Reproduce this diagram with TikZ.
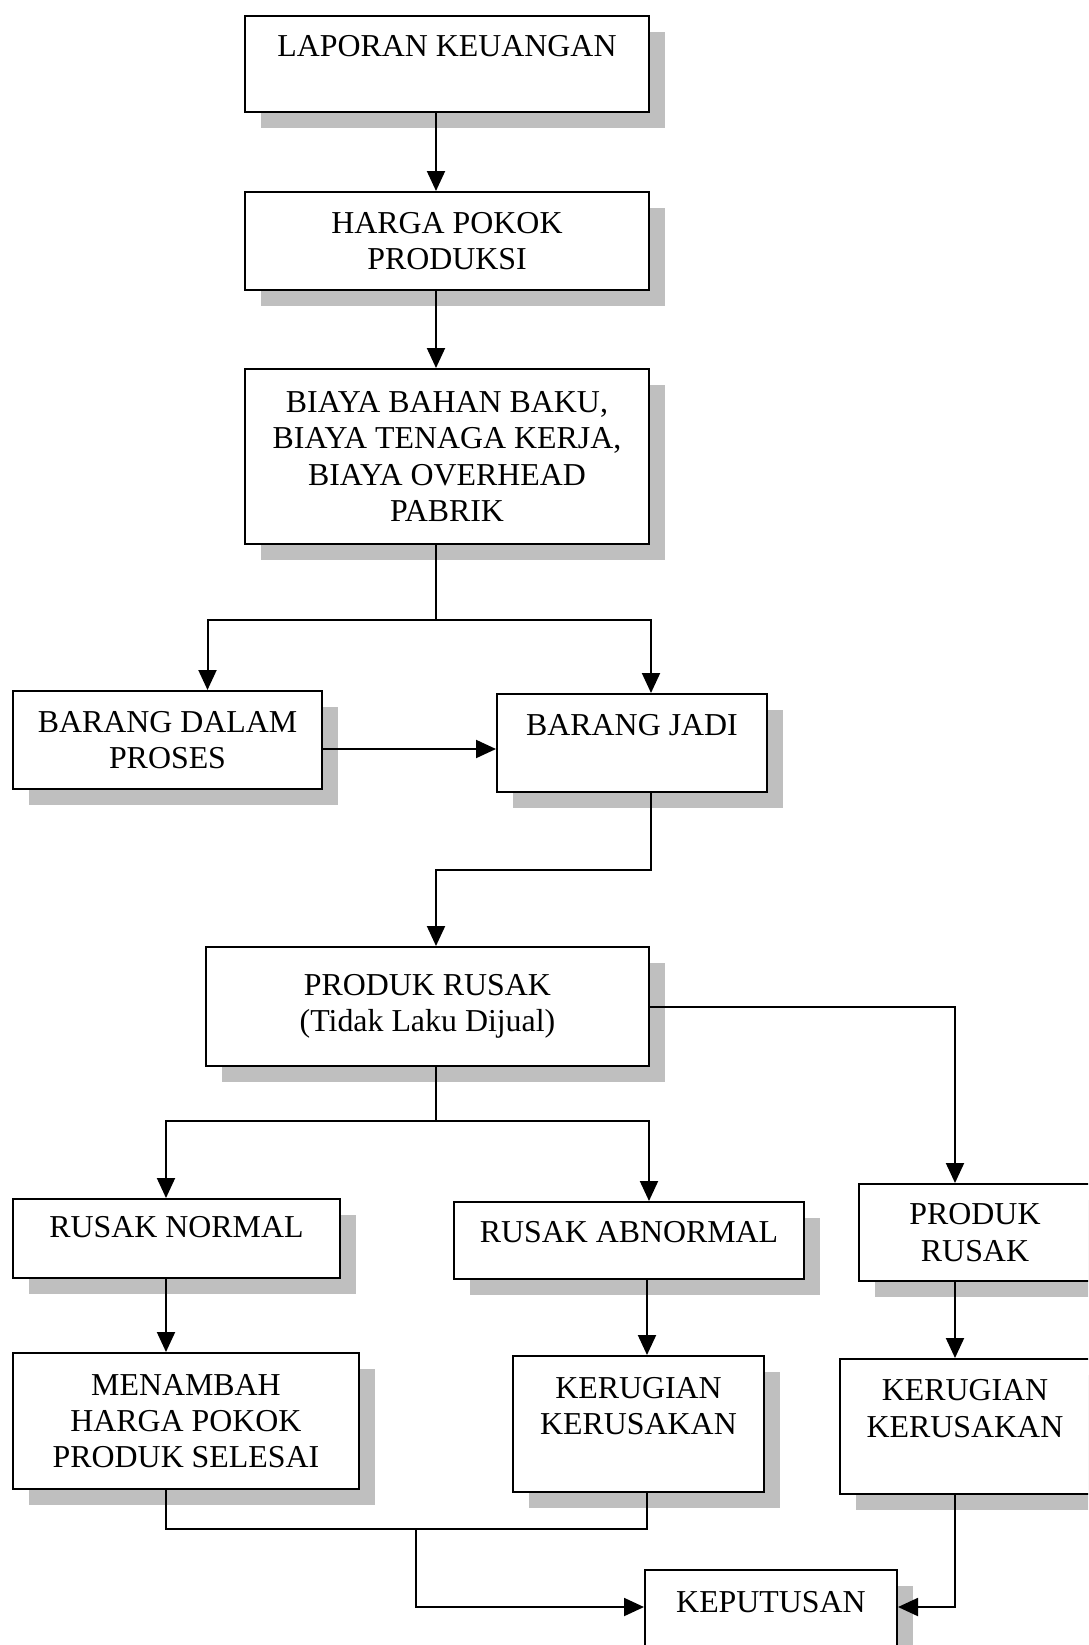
\documentclass[tikz,border=0pt]{standalone}
\usepackage{fontspec}
\setmainfont{Liberation Serif}
\usetikzlibrary{positioning, calc, arrows.meta, shadows}
\tikzset{
box/.style = {rectangle, draw, line width = 2bp, fill = white, align = center,
   inner sep = 2bp, drop shadow = {shadow xshift = 16bp, shadow yshift = -16bp,
   fill = black!25, opacity = 1}},
flow/.style = {-{Triangle[length = 20bp, width = 18bp]}, line width = 2bp},
link/.style = {line width = 2bp}
}

\begin{document}
\begin{tikzpicture}[x = 1bp, y = -1bp, font = \fontsize{32}{36.5}\selectfont]

\useasboundingbox (0,0) rectangle (1088,1645);
\clip (0,0) rectangle (1088,1645);

%%%% Upper column
\node [box, minimum width = 404bp, minimum height = 96bp] (lap) at (447,64)
   {LAPORAN KEUANGAN\\\mbox{}};
\node [box, minimum width = 404bp, minimum height = 98bp] (hpp) [below = 78bp of lap]
   {HARGA POKOK\\PRODUKSI};
\node [box, minimum width = 404bp, minimum height = 175bp] (biaya) [below = 77bp of hpp]
   {BIAYA BAHAN BAKU,\\BIAYA TENAGA KERJA,\\BIAYA OVERHEAD\\PABRIK};

%% Barang
\node [box, minimum width = 309bp, minimum height = 98bp] (bdp) at (167.5,740)
   {BARANG DALAM\\PROSES};
\node [box, minimum width = 270bp, minimum height = 98bp] (bj) [right = 173bp of bdp, yshift = -3bp]
   {BARANG JADI\\\mbox{}};

%% Produk rusak
\node [box, minimum width = 443bp, minimum height = 119bp] (pr) at (427.5,1006.5)
   {PRODUK RUSAK\\(Tidak Laku Dijual)};

\node [box, minimum width = 327bp, minimum height = 79bp, text depth = 24bp] (rn) at (176.5,1238.5)
   {RUSAK NORMAL};
\node [box, minimum width = 350bp, minimum height = 77bp, text depth = 18bp] (ra) at (629,1240.5)
   {RUSAK ABNORMAL};
\node [box, minimum width = 232bp, minimum height = 97bp] (pr2) at (975,1232.5)
   {PRODUK\\RUSAK};

%% Akibat
\node [box, minimum width = 346bp, minimum height = 136bp] (mhp) at (186,1421)
   {MENAMBAH\\HARGA POKOK\\PRODUK SELESAI};
\node [box, minimum width = 251bp, minimum height = 136bp] (kk1) at (638.5,1424)
   {KERUGIAN\\KERUSAKAN\\\mbox{}};
\node [box, minimum width = 250bp, minimum height = 135bp] (kk2) at (965,1426.5)
   {KERUGIAN\\KERUSAKAN\\\mbox{}};

%% Keputusan
\node [box, minimum width = 252bp, minimum height = 100bp] (kep) at (771,1620)
   {KEPUTUSAN\\\mbox{}};

%%%% Connectors
\draw [flow] ([xshift = -11bp]lap.south) -- ([xshift = -11bp]hpp.north);
\draw [flow] ([xshift = -11bp]hpp.south) -- ([xshift = -11bp]biaya.north);

\draw [link] ([xshift = -11bp]biaya.south) -- ++(0,-75bp) coordinate (s1);
\draw [flow] (s1) -| ([xshift = 40bp]bdp.north);
\draw [flow] (s1) -| ([xshift = 19bp]bj.north);
\draw [flow] ([yshift = -9bp]bdp.east) -- ([yshift = -9bp]bdp.east -| bj.west);

\draw [flow] ([xshift = 19bp]bj.south) -- ++(0,-77bp) -| ([xshift = 8.5bp]pr.north);

\draw [link] ([xshift = 8.5bp]pr.south) -- ++(0,-54bp) coordinate (s2);
\draw [flow] (s2) -| ([xshift = -10.5bp]rn.north);
\draw [flow] (s2) -| ([xshift = 20bp]ra.north);
\draw [flow] ([yshift = -0.5bp]pr.east) -| ([xshift = -20bp]pr2.north);

\draw [flow] ([xshift = -10.5bp]rn.south) -- ([xshift = -10.5bp]rn.south |- mhp.north);
\draw [flow] ([xshift = 18bp]ra.south) -- ([xshift = 18bp]ra.south |- kk1.north);
\draw [flow] ([xshift = -20bp]pr2.south) -- ([xshift = -20bp]pr2.south |- kk2.north);

%% Into keputusan
\draw [link] ([xshift = -20bp]mhp.south) -- ++(0,-39bp) coordinate (s3)
   -| ([xshift = 8.5bp]kk1.south);
\draw [flow] ([xshift = 250bp]s3) |- ([yshift = 13bp]kep.west);
\draw [flow] ([xshift = -10bp]kk2.south) |- ([yshift = 13bp]kep.east);

\end{tikzpicture}
\end{document}
